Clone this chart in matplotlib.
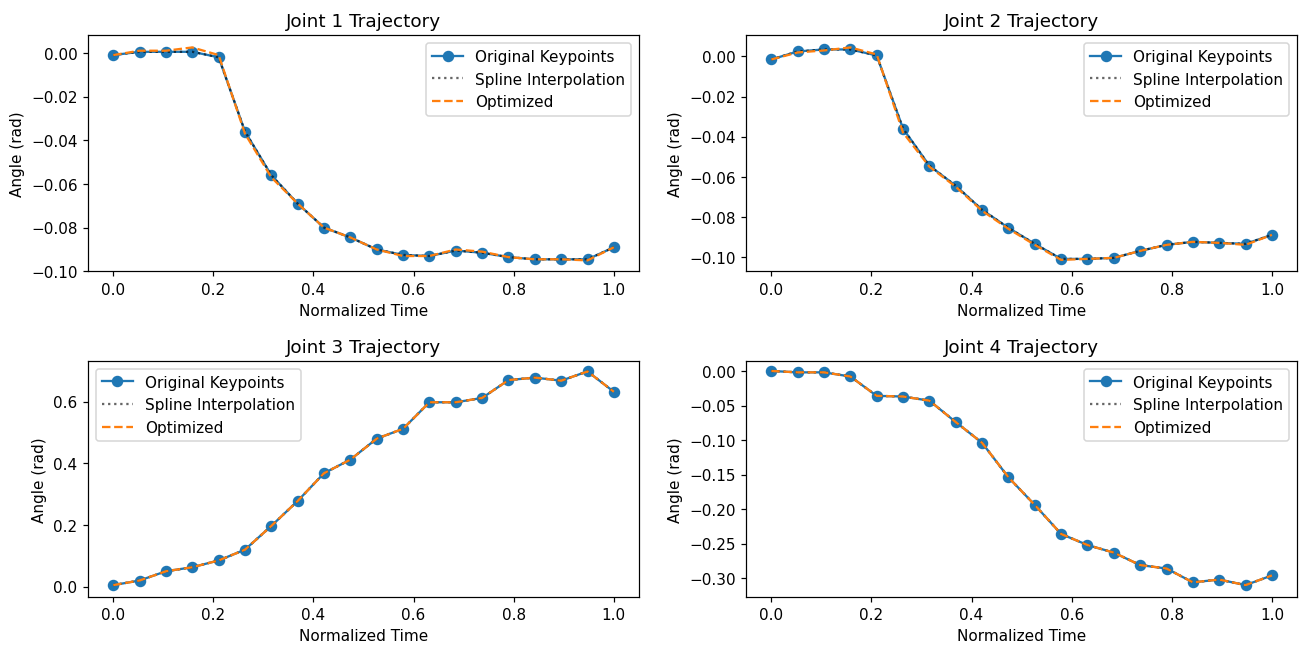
import numpy as np
import matplotlib.pyplot as plt

# -----------------------------
# DATA
# -----------------------------
t = np.linspace(0, 1, 20)

joint1 = [-0.001, 0.0005, 0.0005, 0.0005, -0.002, -0.036, -0.056, -0.069, -0.080, -0.0845,
          -0.090, -0.0925, -0.093, -0.0905, -0.0915, -0.0935, -0.0945, -0.0945, -0.0945, -0.089]
joint2 = [-0.0015, 0.0025, 0.0035, 0.0035, 0.0005, -0.036, -0.0545, -0.0645, -0.0765, -0.0855,
          -0.0935, -0.101, -0.101, -0.1005, -0.097, -0.094, -0.0925, -0.093, -0.0935, -0.089]
joint3 = [0.005, 0.020, 0.050, 0.063, 0.085, 0.120, 0.197, 0.278, 0.368, 0.412,
          0.480, 0.512, 0.598, 0.598, 0.612, 0.670, 0.678, 0.668, 0.698, 0.632]
joint4 = [0.000, -0.002, -0.002, -0.008, -0.036, -0.037, -0.043, -0.074, -0.104, -0.154,
          -0.194, -0.236, -0.252, -0.263, -0.281, -0.286, -0.306, -0.302, -0.310, -0.296]

# optimized curves, almost on top of the keypoints
opt1 = [-0.001, 0.001, 0.001, 0.0025, -0.001, -0.037, -0.057, -0.069, -0.080, -0.0845,
        -0.090, -0.093, -0.093, -0.090, -0.091, -0.0935, -0.0945, -0.0945, -0.095, -0.089]
opt2 = [-0.0015, 0.002, 0.003, 0.0045, 0.001, -0.038, -0.055, -0.065, -0.077, -0.086,
        -0.094, -0.1015, -0.101, -0.1005, -0.097, -0.094, -0.0925, -0.093, -0.094, -0.089]
opt3 = joint3
opt4 = joint4

joints = [joint1, joint2, joint3, joint4]
optimized = [opt1, opt2, opt3, opt4]
legend_loc = ['upper right', 'upper right', 'upper left', 'upper right']
y_limits = [(-0.100, 0.008), (-0.1072, 0.0105), (-0.033, 0.732), (-0.327, 0.0145)]

# -----------------------------
# PLOT
# -----------------------------
fig, axes = plt.subplots(2, 2, figsize=(11.97, 5.88), dpi=110)
axes = axes.flatten()

for i, ax in enumerate(axes):
    ax.plot(t, joints[i], 'o-', color='C0', markersize=6.5, label='Original Keypoints')
    ax.plot(t, joints[i], ':', color='k', alpha=0.6, label='Spline Interpolation')
    ax.plot(t, optimized[i], '--', color='C1', label='Optimized')
    ax.set_title(f"Joint {i + 1} Trajectory")
    ax.set_xlabel("Normalized Time")
    ax.set_ylabel("Angle (rad)")
    ax.set_ylim(y_limits[i])
    ax.legend(loc=legend_loc[i])

plt.subplots_adjust(left=0.067, right=0.985, top=0.944, bottom=0.076, wspace=0.195, hspace=0.38)
plt.savefig("out.png")
